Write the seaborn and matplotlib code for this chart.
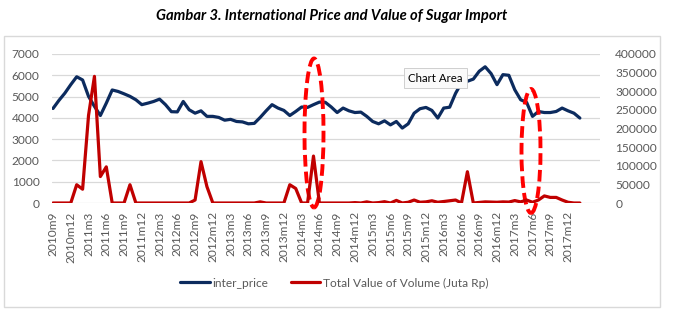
import matplotlib
matplotlib.use("Agg")
import matplotlib.pyplot as plt
from matplotlib.patches import Ellipse, Rectangle
import seaborn as sns
import numpy as np
import pandas as pd

# ---- data ----
months = [f"{2010 + (8 + k) // 12}m{(8 + k) % 12 + 1}" for k in range(90)]  # 2010m9 .. 2018m2

inter_price = [
    4440, 4820, 5160, 5560, 5930, 5780, 5010, 4540, 4110, 4690,
    5310, 5240, 5130, 5010, 4850, 4620, 4690, 4770, 4880, 4620,
    4290, 4280, 4770, 4380, 4220, 4330, 4070, 4070, 4020, 3890,
    3930, 3830, 3810, 3720, 3740, 4020, 4330, 4620, 4460, 4350,
    4110, 4300, 4510, 4490, 4620, 4740, 4730, 4510, 4250, 4460,
    4330, 4250, 4270, 4070, 3830, 3720, 3860, 3670, 3830, 3520,
    3720, 4220, 4430, 4490, 4350, 3990, 4460, 4500, 5150, 5650,
    5720, 5820, 6190, 6400, 6080, 5560, 6030, 6000, 5320, 4850,
    4730, 4070, 4300, 4250, 4250, 4300, 4460, 4330, 4220, 3990,
]

total_value = [
    0, 0, 0, 0, 49000, 37000, 235000, 340000, 71000, 97000,
    0, 0, 0, 49000, 0, 0, 0, 0, 0, 0,
    0, 0, 0, 0, 8000, 111000, 44000, 0, 0, 0,
    0, 0, 0, 0, 0, 3000, 0, 0, 0, 0,
    49000, 39000, 0, 0, 126000, 0, 0, 0, 0, 0,
    0, 1000, 0, 3000, 0, 1000, 3500, 0, 7000, 0,
    2000, 8000, 2000, 3000, 6000, 2000, 4000, 6000, 8000, 0,
    84000, 0, 1500, 3000, 2500, 2000, 3000, 2500, 6500, 3000,
    8000, 2000, 8000, 19000, 15000, 15000, 8000, 2000, 0, 0,
]

left_ticks = [0, 1000, 2000, 3000, 4000, 5000, 6000, 7000]
right_ticks = [0, 50000, 100000, 150000, 200000, 250000, 300000, 350000, 400000]

title = "Gambar 3. International Price and Value of Sugar Import"
label_price = "inter_price"
label_value = "Total Value of Volume (Juta Rp)"

df = pd.DataFrame({"idx": np.arange(len(months)), "month": months,
                   "inter_price": inter_price, "total_value": total_value})

# ---- style ----
sns.set_style("white")
plt.rcParams["font.family"] = ["Lato", "DejaVu Sans"]

W, H = 676, 321
fig = plt.figure(figsize=(W / 100, H / 100), dpi=100)

def fx(px):
    return px / W

def fy(py):
    return 1 - py / H

ax_l, ax_r, ax_t, ax_b = 52, 600, 54, 203
ax = fig.add_axes([fx(ax_l), fy(ax_b), fx(ax_r - ax_l), (ax_b - ax_t) / H])
ax2 = ax.twinx()

BLUE = "#0C2B5E"
RED = "#C00000"
TXT = "#595959"

sns.lineplot(data=df, x="idx", y="inter_price", ax=ax, color=BLUE, linewidth=2.3,
             label=label_price, legend=False)
sns.lineplot(data=df, x="idx", y="total_value", ax=ax2, color=RED, linewidth=2.3,
             label=label_value, legend=False)

x0 = -0.17
x1 = 92.4
ax.set_xlim(x0, x1)
ax.set_ylim(0, 7000)
ax2.set_ylim(0, 400000)

ax.set_yticks(left_ticks)
ax.set_yticklabels([str(v) for v in left_ticks])
ax2.set_yticks(right_ticks)
ax2.set_yticklabels([str(v) for v in right_ticks])

tick_idx = list(range(0, 88, 3))
ax.set_xticks(tick_idx)
ax.set_xticklabels([months[i] for i in tick_idx], rotation=90)

ax.grid(axis="y", color="#D9D9D9", linewidth=0.9)
ax.grid(axis="x", visible=False)
ax2.grid(False)
ax.set_axisbelow(True)
for a in (ax, ax2):
    for s in a.spines.values():
        s.set_visible(False)
    a.set_xlabel("")
    a.set_ylabel("")
ax.tick_params(axis="both", length=0, labelsize=8.6, colors=TXT)
ax.tick_params(axis="y", pad=9)
ax.tick_params(axis="x", pad=6)
ax2.tick_params(axis="y", length=0, labelsize=8.6, colors=TXT, pad=11)
ax.patch.set_alpha(0)
ax2.patch.set_alpha(0)

# ---- dashed red ellipses (annotation) ----
ppx = (x1 - x0) / (ax_r - ax_l)          # data units per px (x)
ppy = 7000 / (ax_b - ax_t)               # data units per px (y)

def px2data(px, py):
    return x0 + (px - ax_l) * ppx, (ax_b - py) * ppy

for (cx, cy, w, h) in [(314, 133, 19, 149), (531, 151, 19, 124)]:
    dx, dy = px2data(cx, cy)
    e = Ellipse((dx, dy), w * ppx, h * ppy, fill=False, edgecolor="#FF0000",
                linewidth=2.8, linestyle=(0, (3, 1.3)), clip_on=False, zorder=5)
    ax.add_patch(e)

# ---- chart area border ----
fig.patches.append(Rectangle((fx(4), fy(307)), fx(656), (307 - 36) / H,
                             transform=fig.transFigure, fill=False,
                             edgecolor="#D9D9D9", linewidth=1.0))

# ---- title ----
fig.text(fx(332), fy(16), title, ha="center", va="center", fontsize=10.6,
         fontweight="bold", fontstyle="italic", color="black")

# ---- legend ----
h1, l1 = ax.get_legend_handles_labels()
h2, l2 = ax2.get_legend_handles_labels()
fig.legend(h1 + h2, l1 + l2, loc="center", bbox_to_anchor=(fx(334), fy(283)),
           ncol=2, frameon=False, fontsize=8.6, handlelength=2.5, handletextpad=0.2,
           columnspacing=1.9, labelcolor=TXT)

# ---- "Chart Area" tooltip ----
fig.text(fx(408), fy(78), "Chart Area", ha="left", va="center", fontsize=8.3,
         color="black", zorder=10,
         bbox=dict(boxstyle="square,pad=0.35", facecolor="#FAFAFA",
                   edgecolor="#C8C8C8", linewidth=0.6))

fig.savefig("out.png", dpi=100)
